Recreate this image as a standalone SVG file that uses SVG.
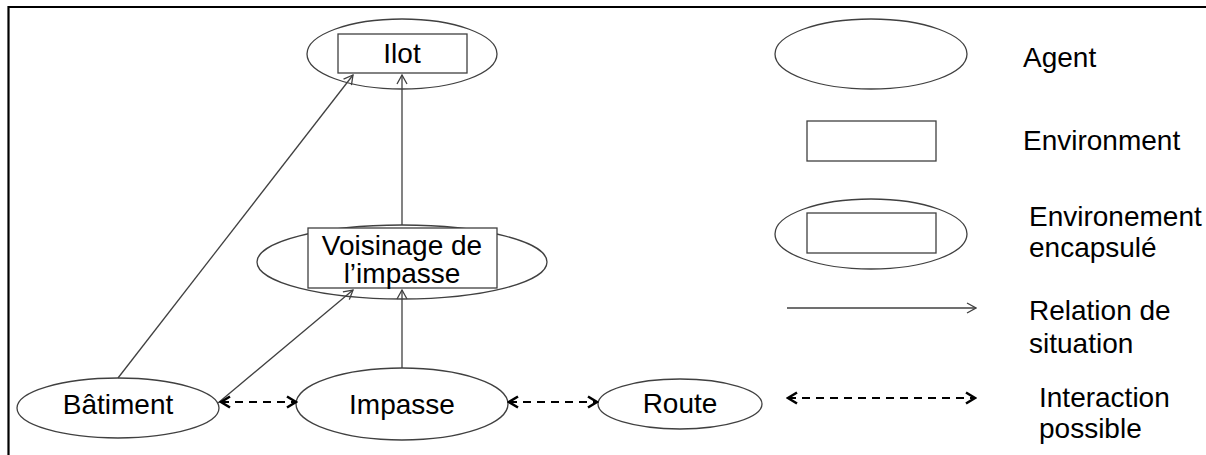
<svg xmlns="http://www.w3.org/2000/svg" width="1206" height="455" viewBox="0 0 1206 455">
<defs>
<style>
.sh{fill:#fff;stroke:#404040;stroke-width:1.3}
.t{font-family:"Liberation Sans",Arial,sans-serif;font-size:28px;fill:#000}
.c{text-anchor:middle}
.rel{stroke:#404040;stroke-width:1.3;fill:none}
.int{stroke:#000;stroke-width:2.2;fill:none;stroke-dasharray:8 6}
</style>
<marker id="ao" viewBox="0 0 12 12" refX="11" refY="6" markerWidth="12" markerHeight="12" markerUnits="userSpaceOnUse" orient="auto-start-reverse">
<path d="M2,1 L11,6 L2,11" fill="none" stroke="#404040" stroke-width="1.3"/>
</marker>
<marker id="ad" viewBox="0 0 14 14" refX="12" refY="7" markerWidth="14" markerHeight="14" markerUnits="userSpaceOnUse" orient="auto-start-reverse">
<path d="M3,1.5 L12,7 L3,12.5" fill="none" stroke="#000" stroke-width="2.6"/>
</marker>
</defs>
<rect width="1206" height="455" fill="#fff"/>
<g id="frame">
<path d="M8.5,455 V7 H1206" fill="none" stroke="#000" stroke-width="2.2"/>
</g>
<g id="ilot">
<ellipse class="sh" cx="402" cy="54" rx="95" ry="35"/>
<rect class="sh" x="338" y="34" width="129" height="39"/>
<text class="t c" x="402" y="63">Ilot</text>
</g>
<g id="voisinage">
<ellipse class="sh" cx="402" cy="262" rx="145" ry="37"/>
<rect class="sh" x="308" y="228" width="189" height="60"/>
<text class="t c" x="402" y="255">Voisinage de</text>
<text class="t c" x="402" y="283">l’impasse</text>
</g>
<g id="batiment">
<ellipse class="sh" cx="118" cy="408" rx="101" ry="30"/>
<text class="t c" x="118" y="414">Bâtiment</text>
</g>
<g id="impasse">
<ellipse class="sh" cx="402" cy="404" rx="106" ry="36"/>
<text class="t c" x="402" y="414">Impasse</text>
</g>
<g id="route">
<ellipse class="sh" cx="680" cy="404" rx="82" ry="25"/>
<text class="t c" x="680" y="413">Route</text>
</g>
<g id="connectors">
<line class="rel" x1="118" y1="378" x2="353" y2="75" marker-end="url(#ao)"/>
<line class="rel" x1="218" y1="403" x2="353" y2="290" marker-end="url(#ao)"/>
<line class="rel" x1="402" y1="225" x2="402" y2="75" marker-end="url(#ao)"/>
<line class="rel" x1="402" y1="368" x2="402" y2="290" marker-end="url(#ao)"/>
<line class="int" x1="221" y1="402" x2="296" y2="402" marker-start="url(#ad)" marker-end="url(#ad)"/>
<line class="int" x1="509" y1="402" x2="597" y2="402" marker-start="url(#ad)" marker-end="url(#ad)"/>
</g>
<g id="legend">
<ellipse class="sh" cx="871" cy="54" rx="96" ry="35"/>
<text class="t" x="1023" y="67">Agent</text>
<rect class="sh" x="807" y="121" width="129" height="40"/>
<text class="t" x="1023" y="150">Environment</text>
<ellipse class="sh" cx="871" cy="234" rx="96" ry="35"/>
<rect class="sh" x="807" y="213" width="129" height="40"/>
<text class="t" x="1029" y="226">Environement</text>
<text class="t" x="1029" y="257">encapsulé</text>
<line class="rel" x1="787" y1="308" x2="976" y2="308" marker-end="url(#ao)"/>
<text class="t" x="1029" y="320">Relation de</text>
<text class="t" x="1029" y="353">situation</text>
<line class="int" x1="788" y1="398" x2="975" y2="398" marker-start="url(#ad)" marker-end="url(#ad)"/>
<text class="t" x="1039" y="407">Interaction</text>
<text class="t" x="1039" y="438">possible</text>
</g>
</svg>
